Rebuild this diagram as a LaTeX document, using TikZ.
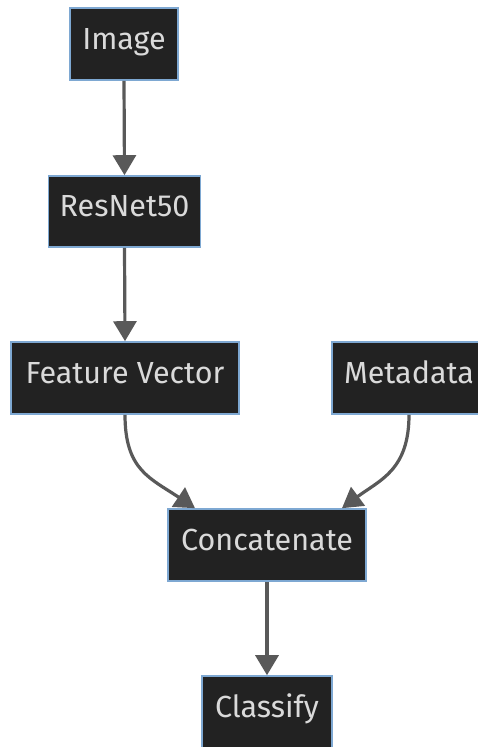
\documentclass[tikz,border=0pt]{standalone}
\usepackage{fontspec}
\setmainfont{Fira Sans}
\usetikzlibrary{arrows.meta}
\definecolor{boxfill}{HTML}{222222}
\definecolor{boxline}{HTML}{7EA8D2}
\definecolor{boxtext}{HTML}{DADADA}
\definecolor{edge}{HTML}{595959}
\tikzset{
  box/.style={draw=boxline, fill=boxfill, line width=1.6pt, text=boxtext,
    inner sep=0pt, minimum height=72pt, text height=21pt, text depth=11pt,
    font=\fontsize{30.5}{34}\selectfont},
  flow/.style={draw=edge, line width=3.2pt, -{Triangle[width=23pt,length=20pt]}}
}
\begin{document}
\begin{tikzpicture}[x=1pt,y=1pt]
\useasboundingbox (0,0) rectangle (477,-747);
\node[box, minimum width=108pt] (img) at (124,-44) {Image};
\node[box, minimum width=152pt, minimum height=71pt] (res) at (124.5,-211.5) {ResNet50};
\node[box, minimum width=228pt] (fv) at (125,-378) {Feature Vector};
\node[box, minimum width=154pt] (meta) at (409,-378) {Metadata};
\node[box, minimum width=198pt] (cat) at (267,-545) {Concatenate};
\node[box, minimum width=130pt] (cls) at (267,-712) {Classify};
\draw[flow] (img.south) -- (res.north);
\draw[flow] (res.south) -- (fv.north);
\draw[flow] (fv.south) .. controls (125,-470) and (150,-478) .. ([xshift=-72pt]cat.north);
\draw[flow] (meta.south) .. controls (409,-470) and (380,-480) .. ([xshift=75pt]cat.north);
\draw[flow] (cat.south) -- (cls.north);
\end{tikzpicture}
\end{document}
